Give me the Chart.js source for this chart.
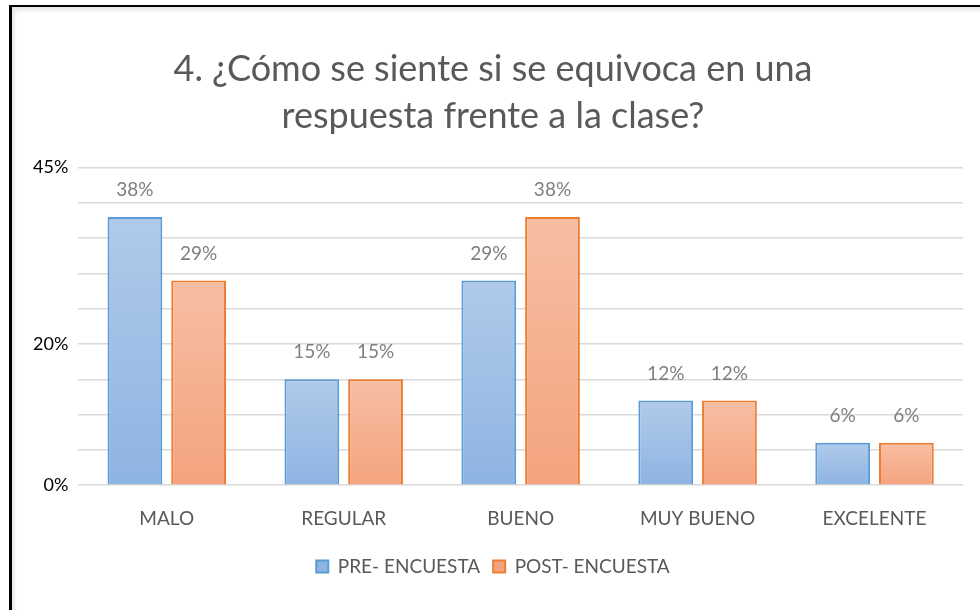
<!DOCTYPE html>
<html>
<head>
<meta charset="utf-8">
<script src="https://cdn.jsdelivr.net/npm/chart.js@4.4.0/dist/chart.umd.min.js"></script>
<style>
  html, body { margin: 0; padding: 0; background: #fff; }
  #wrap { position: relative; width: 980px; height: 610px; overflow: hidden; }
  #frame {
    position: absolute; left: 9px; top: 5px; width: 990px; height: 620px;
    border-top: 2px solid #000; border-left: 3px solid #000;
    box-shadow: inset 2px 3px 4px rgba(0,0,0,0.12);
    pointer-events: none;
  }
  canvas { position: absolute; left: 0; top: 0; }
</style>
</head>
<body>
<div id="wrap">
  <canvas id="chart" width="980" height="610"></canvas>
  <div id="frame"></div>
</div>
<script>
const categories = ['MALO', 'REGULAR', 'BUENO', 'MUY BUENO', 'EXCELENTE'];
const preEncuesta = [38, 15, 29, 12, 6];
const postEncuesta = [29, 15, 38, 12, 6];
const yTickLabels = [0, 20, 45];

const FONT = 'Lato, "Open Sans", sans-serif';

// vertical gradient for each bar, like the office chart fill
function barGradient(top, bottom) {
  return function(context) {
    const chart = context.chart;
    if (!chart.chartArea || context.type !== 'data') return bottom;
    const y = chart.scales.y;
    const v = context.raw;
    const g = chart.ctx.createLinearGradient(0, y.getPixelForValue(v), 0, y.getPixelForValue(0));
    g.addColorStop(0, top);
    g.addColorStop(1, bottom);
    return g;
  };
}

// percent labels above bars
const valueLabels = {
  id: 'valueLabels',
  afterDatasetsDraw(chart) {
    const ctx = chart.ctx;
    ctx.save();
    ctx.font = '19px ' + FONT;
    ctx.fillStyle = '#7f7f7f';
    ctx.textAlign = 'center';
    ctx.textBaseline = 'middle';
    chart.data.datasets.forEach((ds, i) => {
      chart.getDatasetMeta(i).data.forEach((bar, j) => {
        ctx.fillText(ds.data[j] + '%', bar.x, bar.y - 27);
      });
    });
    ctx.restore();
  }
};

new Chart(document.getElementById('chart'), {
  type: 'bar',
  data: {
    labels: categories,
    datasets: [
      {
        label: 'PRE- ENCUESTA',
        data: preEncuesta,
        backgroundColor: barGradient('#b0caea', '#8eb4e2'),
        borderColor: '#5b9bd5',
        borderWidth: 2
      },
      {
        label: 'POST- ENCUESTA',
        data: postEncuesta,
        backgroundColor: barGradient('#f7bea3', '#f4a37f'),
        borderColor: '#ed7d31',
        borderWidth: 2
      }
    ]
  },
  options: {
    responsive: false,
    animation: false,
    layout: { padding: { left: 23, right: 17, top: 46, bottom: 24 } },
    datasets: {
      bar: { categoryPercentage: 0.72, barPercentage: 0.86 }
    },
    scales: {
      x: {
        grid: { display: false },
        border: { display: false },
        ticks: {
          color: '#595959',
          font: { family: FONT, size: 19 },
          padding: 14
        }
      },
      y: {
        min: 0,
        max: 45,
        border: { display: false },
        grid: { color: '#d9d9d9', lineWidth: 1.5, drawTicks: false },
        ticks: {
          stepSize: 5,
          autoSkip: false,
          padding: 10,
          color: '#000',
          font: { family: FONT, size: 18 },
          callback: v => yTickLabels.includes(v) ? v + '%' : ''
        }
      }
    },
    plugins: {
      title: {
        display: true,
        text: ['4. ¿Cómo se siente si se equivoca en una', 'respuesta frente a la clase?'],
        color: '#595959',
        font: { family: FONT, size: 36, weight: 'normal', lineHeight: 1.3 },
        padding: { top: 0, bottom: 28 }
      },
      legend: {
        position: 'bottom',
        labels: {
          color: '#595959',
          font: { family: FONT, size: 19 },
          boxWidth: 12,
          boxHeight: 12,
          padding: 13
        }
      },
      tooltip: { enabled: false }
    }
  },
  plugins: [valueLabels]
});
</script>
</body>
</html>
